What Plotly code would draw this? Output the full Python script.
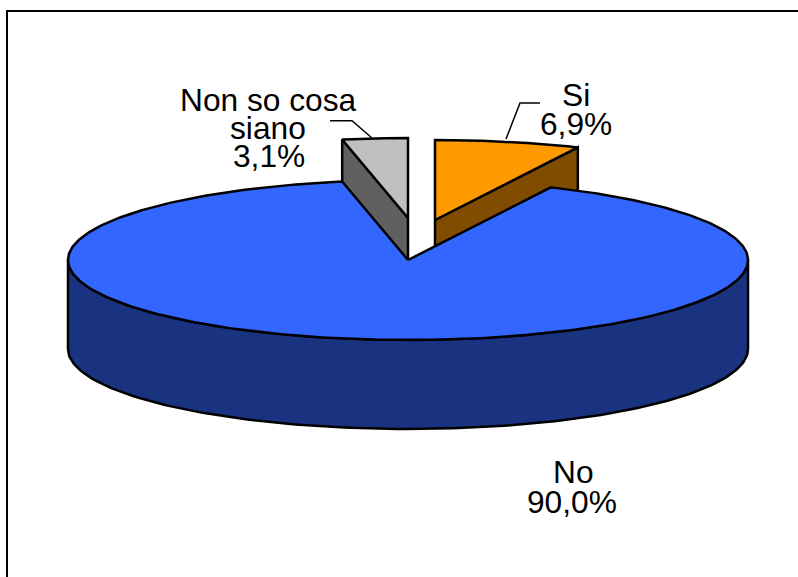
import numpy as np
import plotly.graph_objects as go

categories = ["Si", "No", "Non so cosa siano"]
values = [6.9, 90.0, 3.1]
top_colors = ["#FF9900", "#3366FF", "#C0C0C0"]
wall_colors = ["#804C00", "#1A3380", "#606060"]

W, H = 798, 577
CX, CY, RX, RY, DEPTH = 408, 260, 340, 80, 89
LW = 2.5
FS = 31.7
OFFSETS = {"Si": (27, -40), "No": (0, 0), "Non so cosa siano": (0, -42)}


def pct(v):
    return f"{v:.1f}%".replace(".", ",")


def rim(a0, a1, dx, dy, n=160):
    t = np.radians(np.linspace(a0, a1, n))
    return CX + dx + RX * np.sin(t), CY + dy - RY * np.cos(t)


def poly(xs, ys, color):
    return go.Scatter(x=np.r_[xs, xs[0]], y=np.r_[ys, ys[0]], mode="lines", fill="toself",
                      fillcolor=color, line=dict(color="black", width=LW),
                      hoverinfo="skip", showlegend=False)


# angles clockwise from 12 o'clock, series starts at 0
spans = {}
a = 0.0
for c, v in zip(categories, values):
    spans[c] = (a, a + v * 3.6)
    a += v * 3.6

fig = go.Figure()


def add_exploded(i, cut_angle):
    c = categories[i]
    a0, a1 = spans[c]
    dx, dy = OFFSETS[c]
    # visible cut wall
    rx_, ry_ = rim(cut_angle, cut_angle, dx, dy, 1)
    ax, ay = CX + dx, CY + dy
    fig.add_trace(poly(np.array([ax, rx_[0], rx_[0], ax]),
                       np.array([ay, ry_[0], ry_[0] + DEPTH, ay + DEPTH]), wall_colors[i]))
    xs, ys = rim(a0, a1, dx, dy)
    fig.add_trace(poly(np.r_[ax, xs], np.r_[ay, ys], top_colors[i]))


add_exploded(0, spans["Si"][1])
add_exploded(2, spans["Non so cosa siano"][0])

# main slice: front wall, then top
a0, a1 = spans["No"]
xb, yb = rim(90, 270, 0, 0)
fig.add_trace(poly(np.r_[xb, xb[::-1]], np.r_[yb + DEPTH, yb[::-1]], wall_colors[1]))
xs, ys = rim(a0, a1, 0, 0, 400)
fig.add_trace(poly(np.r_[CX, xs], np.r_[CY, ys], top_colors[1]))

labels = [
    ("Non so cosa", 268, 110.5), ("siano", 268, 138.5), (pct(values[2]), 269, 167),
    (categories[0], 576, 106), (pct(values[0]), 576, 135),
    (categories[1], 573, 483), (pct(values[1]), 572, 513),
]
for txt, x, base in labels:
    fig.add_annotation(x=x, y=base - 11, text=txt, showarrow=False, xanchor="center", yanchor="middle",
                       font=dict(family="Liberation Sans", size=FS, color="black"))

for pts in ([(330, 120.7), (352, 120.7), (372, 138)], [(540, 103), (520, 103), (506, 139)]):
    fig.add_trace(go.Scatter(x=[p[0] for p in pts], y=[p[1] for p in pts], mode="lines",
                             line=dict(color="black", width=1.5), hoverinfo="skip", showlegend=False))

fig.add_shape(type="line", x0=7, x1=W, y0=11, y1=11, line=dict(color="black", width=2))
fig.add_shape(type="line", x0=7, x1=7, y0=10, y1=H, line=dict(color="black", width=2))

fig.update_layout(width=W, height=H, margin=dict(l=0, r=0, t=0, b=0), paper_bgcolor="white",
                  plot_bgcolor="white", showlegend=False,
                  xaxis=dict(range=[0, W], visible=False, fixedrange=True),
                  yaxis=dict(range=[H, 0], visible=False, fixedrange=True))
fig.write_html("out.html", config={"displayModeBar": False},
               post_script="document.body.style.margin='0';document.documentElement.style.overflow='hidden';")
